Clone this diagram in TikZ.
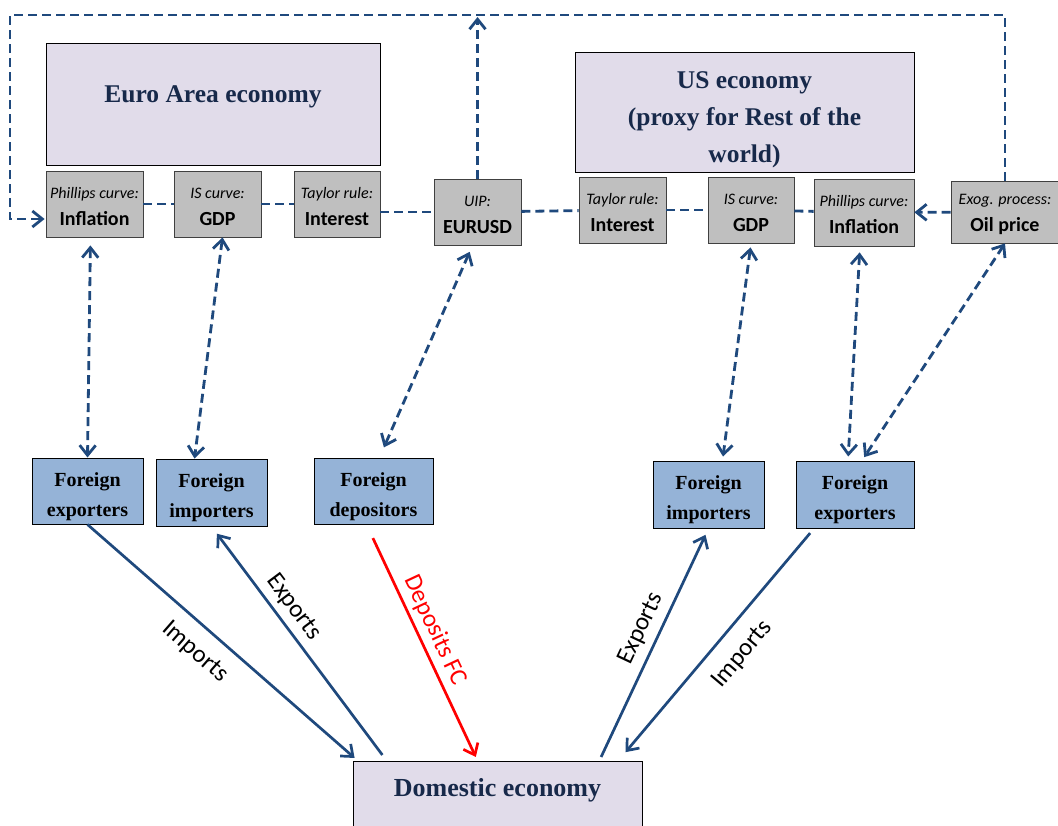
\documentclass[tikz,border=0pt]{standalone}
\usepackage{fontspec}
\setmainfont{Liberation Serif}
\newfontfamily\calibrifont{Carlito}
\usetikzlibrary{arrows.meta}
\definecolor{linkblue}{HTML}{1F497D}
\definecolor{boxgray}{HTML}{BFBFBF}
\definecolor{agentblue}{HTML}{95B3D7}
\definecolor{econlilac}{HTML}{E1DCEA}
\definecolor{titlenavy}{HTML}{17294A}
\newcommand{\eqtext}[2]{\rule{0pt}{16pt}{\itshape #1}\\{\bfseries\fontsize{20}{27}\selectfont #2}}
\newcommand{\agenttext}[1]{\rule{0pt}{25pt}Foreign\\#1}

\begin{document}
\begin{tikzpicture}[x=1pt,y=1pt,
   econbox/.style={draw=black,line width=0.8pt,fill=econlilac,text=titlenavy,font=\bfseries\fontsize{25.5}{37}\selectfont,align=center,inner sep=0pt},
   eqbox/.style={draw=black!75,line width=0.8pt,fill=boxgray,font=\calibrifont\fontsize{16}{27}\selectfont,align=center,minimum height=66pt,inner sep=0pt},
   agentbox/.style={draw=black,line width=1pt,fill=agentblue,font=\bfseries\fontsize{20}{30}\selectfont,align=center,minimum height=66pt,inner sep=0pt},
   dashlink/.style={linkblue,line width=2.8pt,dash pattern=on 9pt off 5pt},
   flow/.style={linkblue,line width=2.7pt},
   flowlabel/.style={font=\calibrifont\fontsize{25}{27}\selectfont,text=black,sloped,inner sep=2pt},
   >={Straight Barb[length=10pt,width=16pt]}]
   \useasboundingbox (0,0) rectangle (1058,-826);
   % economies
   \node[econbox,minimum width=334pt,minimum height=122pt,text height=18pt,text depth=20pt] (ea) at (213,-104) {Euro Area economy};
   \node[econbox,minimum width=339pt,minimum height=120pt] (us) at (744.5,-112) {\rule{0pt}{33pt}US economy\\(proxy for Rest of the\\world)};
   \node[econbox,minimum width=289pt,minimum height=78pt,font=\bfseries\fontsize{26}{30}\selectfont,text height=18pt,text depth=26pt] (dom) at (497.5,-800) {Domestic economy};
   % model equations
   \node[eqbox,minimum width=97pt] (ea-inf) at (94.5,-204) {\eqtext{Phillips curve:}{Inflation}};
   \node[eqbox,minimum width=87pt] (ea-gdp) at (217.5,-204) {\eqtext{IS curve:}{GDP}};
   \node[eqbox,minimum width=86pt] (ea-int) at (337,-204) {\eqtext{Taylor rule:}{Interest}};
   \node[eqbox,minimum width=87pt] (uip) at (477.5,-212) {\eqtext{UIP:}{EURUSD}};
   \node[eqbox,minimum width=87pt] (us-int) at (622.5,-210) {\eqtext{Taylor rule:}{Interest}};
   \node[eqbox,minimum width=86pt] (us-gdp) at (751,-210) {\eqtext{IS curve:}{GDP}};
   \node[eqbox,minimum width=100pt,minimum height=67pt] (us-inf) at (864,-212.5) {\eqtext{Phillips curve:}{Inflation}};
   \node[eqbox,minimum width=108pt,minimum height=62pt] (oil) at (1005,-212) {\eqtext{Exog. process:}{Oil price}};
   % foreign agents
   \node[agentbox,minimum width=111pt] (fx-ea) at (87.5,-491) {\agenttext{exporters}};
   \node[agentbox,minimum width=111pt,minimum height=67pt] (fm-ea) at (211.5,-492.5) {\agenttext{importers}};
   \node[agentbox,minimum width=119pt] (fd) at (373.5,-491) {\agenttext{depositors}};
   \node[agentbox,minimum width=111pt,minimum height=67pt] (fm-us) at (708.5,-494.5) {\agenttext{importers}};
   \node[agentbox,minimum width=118pt,minimum height=67pt] (fx-us) at (855,-494.5) {\agenttext{exporters}};
   % equation chain
   \draw[dashlink] (ea-inf) -- (ea-gdp);
   \draw[dashlink] (ea-gdp) -- (ea-int);
   \draw[dashlink] (uip.west -| ea-int.east) -- (uip.west);
   \draw[dashlink] (uip) -- (us-int);
   \draw[dashlink] (us-int) -- (us-gdp);
   \draw[dashlink] (us-gdp) -- (us-inf);
   \draw[dashlink,->] (oil) -- (us-inf);
   \coordinate (loop-corner) at (10,-15);
   \draw[dashlink,->,shorten >=1pt] (oil.north) |- (loop-corner) |- ([yshift=-15pt]ea-inf.west);
   \draw[dashlink,->,shorten >=2pt] (uip.north) -- (uip.north |- loop-corner);
   % links to foreign agents
   \draw[dashlink,<->,shorten <=8pt] ([xshift=-4pt]ea-inf.south) -- (fx-ea.north);
   \draw[dashlink,<->] ([xshift=5pt]ea-gdp.south) -- ([xshift=-17pt]fm-ea.north);
   \draw[dashlink,<->,shorten <=7pt,shorten >=11pt] ([xshift=-5pt]uip.south) -- ([xshift=6pt]fd.north);
   \draw[dashlink,<->,shorten <=4pt,shorten >=4pt] (us-gdp.south) -- ([xshift=14pt]fm-us.north);
   \draw[dashlink,<->,shorten <=6pt,shorten >=4pt] ([xshift=-4pt]us-inf.south) -- ([xshift=-7pt]fx-us.north);
   \draw[dashlink,<->,shorten >=4pt] (oil.south) -- ([xshift=7pt]fx-us.north);
   % trade and deposit flows
   \draw[flow,->,shorten >=4pt] (fx-ea.south) -- ([xshift=5pt]dom.north west) node[flowlabel,pos=0.46,below=12pt] {Imports};
   \draw[flow,->,shorten <=7pt,shorten >=9pt] ([xshift=34pt]dom.north west) -- (fm-ea.south) node[flowlabel,pos=0.61,above=4pt] {Exports};
   \draw[flow,red,->,shorten <=15pt,shorten >=4pt] ([xshift=-7pt]fd.south) -- ([xshift=-20pt]dom.north) node[flowlabel,pos=0.48,above=3pt,text=red] {Deposits FC};
   \draw[flow,->,shorten <=4pt,shorten >=7pt] ([xshift=-43pt]dom.north east) -- (fm-us.south) node[flowlabel,pos=0.535,above=5pt] {Exports};
   \draw[flow,->,shorten <=6pt,shorten >=11pt] ([xshift=-41pt]fx-us.south) -- ([xshift=-24pt]dom.north east) node[flowlabel,pos=0.47,below=13pt] {Imports};
\end{tikzpicture}
\end{document}
